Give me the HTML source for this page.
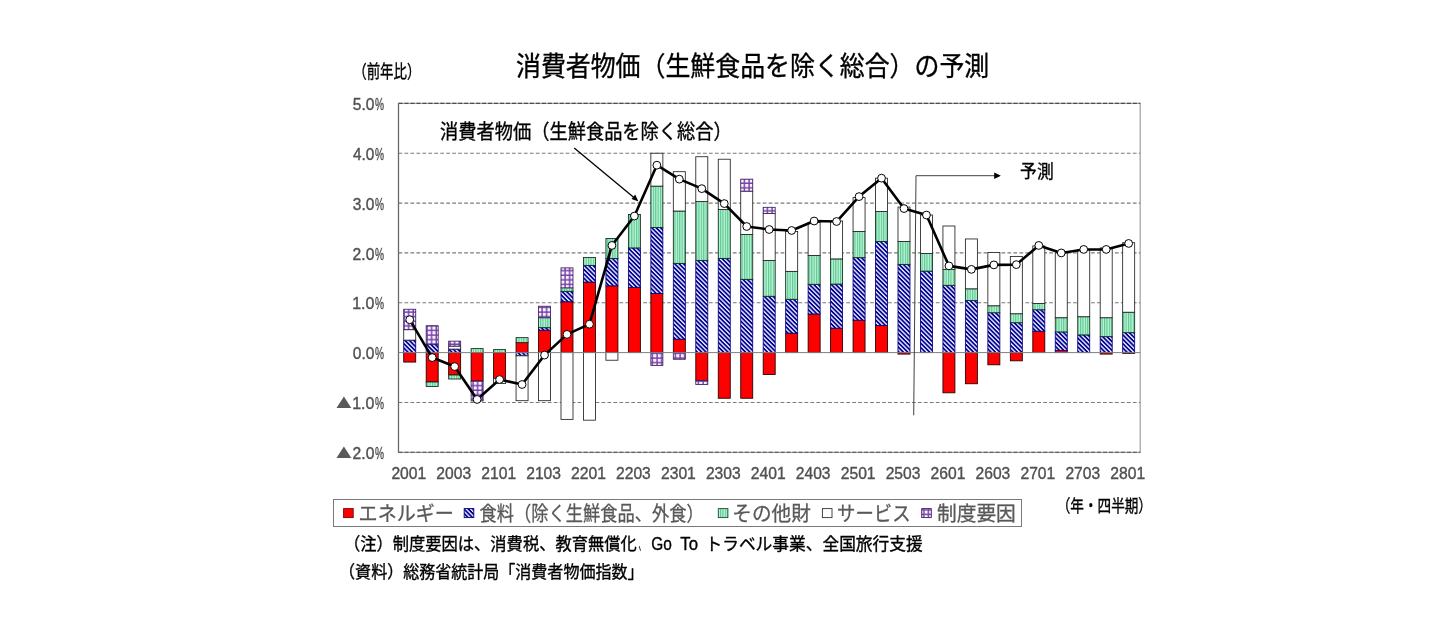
<!DOCTYPE html>
<html lang="ja"><head><meta charset="utf-8"><title>消費者物価（生鮮食品を除く総合）の予測</title>
<style>html,body{margin:0;padding:0;background:#fff}body{width:1445px;height:628px;overflow:hidden;position:relative;font-family:"Liberation Sans","Noto Sans CJK JP",sans-serif}svg{position:absolute;left:0;top:0;display:block;will-change:transform}text{font-family:"Liberation Sans","Noto Sans CJK JP",sans-serif}.ax{fill:#515151;stroke:#515151;stroke-width:0.4px}.nt{fill:#000;stroke:#000;stroke-width:0.35px}.jt{fill:#000;stroke:#000;stroke-width:0.35px}.jl{fill:#595959;stroke:#595959;stroke-width:0.3px}</style>
</head><body>
<svg width="1445" height="628" viewBox="0 0 1445 628">
<defs>
<pattern id="pF" width="3.1" height="3.1" patternUnits="userSpaceOnUse" patternTransform="rotate(45)"><rect width="3.1" height="3.1" fill="#f4f4ff"/><rect width="3.1" height="1.75" fill="#000092"/></pattern>
<pattern id="pG" width="2.4" height="4" patternUnits="userSpaceOnUse"><rect width="2.4" height="4" fill="#b6f7d6"/><rect width="1.15" height="4" fill="#62c492"/></pattern>
<pattern id="pP" width="4.6" height="4.6" patternUnits="userSpaceOnUse"><rect width="4.6" height="4.6" fill="#faf0ff"/><rect width="4.6" height="1.45" y="3.15" fill="#7443a6"/><rect width="1.45" height="4.6" x="3.15" fill="#7443a6"/></pattern>
</defs>
<rect width="1445" height="628" fill="#fff"/>
<rect x="398.5" y="103.40" width="741.7" height="349.00" fill="none" stroke="#a6a6a6" stroke-width="1.3"/>
<line x1="398.5" x2="1140.2" y1="452.28" y2="452.28" stroke="#4d4d4d" stroke-width="1.1" stroke-dasharray="4.1 1.87"/>
<line x1="398.5" x2="1140.2" y1="402.44" y2="402.44" stroke="#7a7a7a" stroke-width="1.1" stroke-dasharray="3.75 2.22"/>
<line x1="398.5" x2="1140.2" y1="302.76" y2="302.76" stroke="#7a7a7a" stroke-width="1.1" stroke-dasharray="3.75 2.22"/>
<line x1="398.5" x2="1140.2" y1="252.92" y2="252.92" stroke="#7a7a7a" stroke-width="1.1" stroke-dasharray="3.75 2.22"/>
<line x1="398.5" x2="1140.2" y1="203.08" y2="203.08" stroke="#7a7a7a" stroke-width="1.1" stroke-dasharray="3.75 2.22"/>
<line x1="398.5" x2="1140.2" y1="153.24" y2="153.24" stroke="#7a7a7a" stroke-width="1.1" stroke-dasharray="3.75 2.22"/>
<line x1="398.5" x2="1140.2" y1="103.40" y2="103.40" stroke="#4d4d4d" stroke-width="1.1" stroke-dasharray="4.1 1.87"/>
<rect x="403.72" y="352.60" width="12.00" height="9.47" fill="#ff0000" stroke="#1a0000" stroke-width="0.85"/>
<rect x="403.72" y="340.14" width="12.00" height="12.46" fill="url(#pF)" stroke="#000080" stroke-width="0.85"/>
<rect x="403.72" y="329.67" width="12.00" height="10.47" fill="#ffffff" stroke="#222222" stroke-width="0.85"/>
<rect x="403.72" y="309.24" width="12.00" height="20.43" fill="url(#pP)" stroke="#3b1f5b" stroke-width="0.85"/>
<rect x="426.19" y="352.60" width="12.00" height="29.41" fill="#ff0000" stroke="#1a0000" stroke-width="0.85"/>
<rect x="426.19" y="344.13" width="12.00" height="8.47" fill="url(#pF)" stroke="#000080" stroke-width="0.85"/>
<rect x="426.19" y="382.01" width="12.00" height="4.49" fill="url(#pG)" stroke="#0d2a1a" stroke-width="0.85"/>
<rect x="426.19" y="325.69" width="12.00" height="18.44" fill="url(#pP)" stroke="#3b1f5b" stroke-width="0.85"/>
<rect x="448.65" y="352.60" width="12.00" height="22.43" fill="#ff0000" stroke="#1a0000" stroke-width="0.85"/>
<rect x="448.65" y="349.11" width="12.00" height="3.49" fill="url(#pF)" stroke="#000080" stroke-width="0.85"/>
<rect x="448.65" y="375.03" width="12.00" height="3.99" fill="url(#pG)" stroke="#0d2a1a" stroke-width="0.85"/>
<rect x="448.65" y="346.12" width="12.00" height="2.99" fill="#ffffff" stroke="#222222" stroke-width="0.85"/>
<rect x="448.65" y="341.14" width="12.00" height="4.98" fill="url(#pP)" stroke="#3b1f5b" stroke-width="0.85"/>
<rect x="471.12" y="352.60" width="12.00" height="28.41" fill="#ff0000" stroke="#1a0000" stroke-width="0.85"/>
<rect x="471.12" y="348.61" width="12.00" height="3.99" fill="url(#pG)" stroke="#0d2a1a" stroke-width="0.85"/>
<rect x="471.12" y="381.01" width="12.00" height="19.94" fill="url(#pP)" stroke="#3b1f5b" stroke-width="0.85"/>
<rect x="493.59" y="352.60" width="12.00" height="25.92" fill="#ff0000" stroke="#1a0000" stroke-width="0.85"/>
<rect x="493.59" y="349.61" width="12.00" height="2.99" fill="url(#pG)" stroke="#0d2a1a" stroke-width="0.85"/>
<rect x="493.59" y="378.52" width="12.00" height="4.98" fill="#ffffff" stroke="#222222" stroke-width="0.85"/>
<rect x="516.06" y="342.63" width="12.00" height="9.97" fill="#ff0000" stroke="#1a0000" stroke-width="0.85"/>
<rect x="516.06" y="352.60" width="12.00" height="3.24" fill="url(#pF)" stroke="#000080" stroke-width="0.85"/>
<rect x="516.06" y="337.65" width="12.00" height="4.98" fill="url(#pG)" stroke="#0d2a1a" stroke-width="0.85"/>
<rect x="516.06" y="355.84" width="12.00" height="44.86" fill="#ffffff" stroke="#222222" stroke-width="0.85"/>
<rect x="538.52" y="330.17" width="12.00" height="22.43" fill="#ff0000" stroke="#1a0000" stroke-width="0.85"/>
<rect x="538.52" y="327.68" width="12.00" height="2.49" fill="url(#pF)" stroke="#000080" stroke-width="0.85"/>
<rect x="538.52" y="317.71" width="12.00" height="9.97" fill="url(#pG)" stroke="#0d2a1a" stroke-width="0.85"/>
<rect x="538.52" y="352.60" width="12.00" height="48.10" fill="#ffffff" stroke="#222222" stroke-width="0.85"/>
<rect x="538.52" y="306.25" width="12.00" height="11.46" fill="url(#pP)" stroke="#3b1f5b" stroke-width="0.85"/>
<rect x="560.99" y="301.76" width="12.00" height="50.84" fill="#ff0000" stroke="#1a0000" stroke-width="0.85"/>
<rect x="560.99" y="291.30" width="12.00" height="10.47" fill="url(#pF)" stroke="#000080" stroke-width="0.85"/>
<rect x="560.99" y="287.81" width="12.00" height="3.49" fill="url(#pG)" stroke="#0d2a1a" stroke-width="0.85"/>
<rect x="560.99" y="352.60" width="12.00" height="66.79" fill="#ffffff" stroke="#222222" stroke-width="0.85"/>
<rect x="560.99" y="267.87" width="12.00" height="19.94" fill="url(#pP)" stroke="#3b1f5b" stroke-width="0.85"/>
<rect x="583.46" y="282.08" width="12.00" height="70.52" fill="#ff0000" stroke="#1a0000" stroke-width="0.85"/>
<rect x="583.46" y="265.38" width="12.00" height="16.70" fill="url(#pF)" stroke="#000080" stroke-width="0.85"/>
<rect x="583.46" y="257.41" width="12.00" height="7.97" fill="url(#pG)" stroke="#0d2a1a" stroke-width="0.85"/>
<rect x="583.46" y="352.60" width="12.00" height="67.58" fill="#ffffff" stroke="#222222" stroke-width="0.85"/>
<rect x="605.92" y="285.81" width="12.00" height="66.79" fill="#ff0000" stroke="#1a0000" stroke-width="0.85"/>
<rect x="605.92" y="258.40" width="12.00" height="27.41" fill="url(#pF)" stroke="#000080" stroke-width="0.85"/>
<rect x="605.92" y="238.47" width="12.00" height="19.94" fill="url(#pG)" stroke="#0d2a1a" stroke-width="0.85"/>
<rect x="605.92" y="352.60" width="12.00" height="7.63" fill="#ffffff" stroke="#222222" stroke-width="0.85"/>
<rect x="628.39" y="287.31" width="12.00" height="65.29" fill="#ff0000" stroke="#1a0000" stroke-width="0.85"/>
<rect x="628.39" y="247.94" width="12.00" height="39.37" fill="url(#pF)" stroke="#000080" stroke-width="0.85"/>
<rect x="628.39" y="214.54" width="12.00" height="33.39" fill="url(#pG)" stroke="#0d2a1a" stroke-width="0.85"/>
<rect x="650.86" y="293.54" width="12.00" height="59.06" fill="#ff0000" stroke="#1a0000" stroke-width="0.85"/>
<rect x="650.86" y="227.50" width="12.00" height="66.04" fill="url(#pF)" stroke="#000080" stroke-width="0.85"/>
<rect x="650.86" y="186.13" width="12.00" height="41.37" fill="url(#pG)" stroke="#0d2a1a" stroke-width="0.85"/>
<rect x="650.86" y="153.24" width="12.00" height="32.89" fill="#ffffff" stroke="#222222" stroke-width="0.85"/>
<rect x="650.86" y="352.60" width="12.00" height="12.81" fill="url(#pP)" stroke="#3b1f5b" stroke-width="0.85"/>
<rect x="673.32" y="339.14" width="12.00" height="13.46" fill="#ff0000" stroke="#1a0000" stroke-width="0.85"/>
<rect x="673.32" y="263.39" width="12.00" height="75.76" fill="url(#pF)" stroke="#000080" stroke-width="0.85"/>
<rect x="673.32" y="211.05" width="12.00" height="52.33" fill="url(#pG)" stroke="#0d2a1a" stroke-width="0.85"/>
<rect x="673.32" y="171.68" width="12.00" height="39.37" fill="#ffffff" stroke="#222222" stroke-width="0.85"/>
<rect x="673.32" y="352.60" width="12.00" height="6.68" fill="url(#pP)" stroke="#3b1f5b" stroke-width="0.85"/>
<rect x="695.79" y="352.60" width="12.00" height="28.06" fill="#ff0000" stroke="#1a0000" stroke-width="0.85"/>
<rect x="695.79" y="260.40" width="12.00" height="92.20" fill="url(#pF)" stroke="#000080" stroke-width="0.85"/>
<rect x="695.79" y="201.58" width="12.00" height="58.81" fill="url(#pG)" stroke="#0d2a1a" stroke-width="0.85"/>
<rect x="695.79" y="156.73" width="12.00" height="44.86" fill="#ffffff" stroke="#222222" stroke-width="0.85"/>
<rect x="695.79" y="380.66" width="12.00" height="3.84" fill="url(#pP)" stroke="#3b1f5b" stroke-width="0.85"/>
<rect x="718.26" y="352.60" width="12.00" height="45.65" fill="#ff0000" stroke="#1a0000" stroke-width="0.85"/>
<rect x="718.26" y="258.40" width="12.00" height="94.20" fill="url(#pF)" stroke="#000080" stroke-width="0.85"/>
<rect x="718.26" y="209.56" width="12.00" height="48.84" fill="url(#pG)" stroke="#0d2a1a" stroke-width="0.85"/>
<rect x="718.26" y="159.22" width="12.00" height="50.34" fill="#ffffff" stroke="#222222" stroke-width="0.85"/>
<rect x="740.73" y="352.60" width="12.00" height="45.65" fill="#ff0000" stroke="#1a0000" stroke-width="0.85"/>
<rect x="740.73" y="279.34" width="12.00" height="73.26" fill="url(#pF)" stroke="#000080" stroke-width="0.85"/>
<rect x="740.73" y="234.48" width="12.00" height="44.86" fill="url(#pG)" stroke="#0d2a1a" stroke-width="0.85"/>
<rect x="740.73" y="191.12" width="12.00" height="43.36" fill="#ffffff" stroke="#222222" stroke-width="0.85"/>
<rect x="740.73" y="179.16" width="12.00" height="11.96" fill="url(#pP)" stroke="#3b1f5b" stroke-width="0.85"/>
<rect x="763.19" y="352.60" width="12.00" height="21.93" fill="#ff0000" stroke="#1a0000" stroke-width="0.85"/>
<rect x="763.19" y="296.28" width="12.00" height="56.32" fill="url(#pF)" stroke="#000080" stroke-width="0.85"/>
<rect x="763.19" y="260.40" width="12.00" height="35.88" fill="url(#pG)" stroke="#0d2a1a" stroke-width="0.85"/>
<rect x="763.19" y="213.55" width="12.00" height="46.85" fill="#ffffff" stroke="#222222" stroke-width="0.85"/>
<rect x="763.19" y="207.32" width="12.00" height="6.23" fill="url(#pP)" stroke="#3b1f5b" stroke-width="0.85"/>
<rect x="785.66" y="333.16" width="12.00" height="19.44" fill="#ff0000" stroke="#1a0000" stroke-width="0.85"/>
<rect x="785.66" y="299.27" width="12.00" height="33.89" fill="url(#pF)" stroke="#000080" stroke-width="0.85"/>
<rect x="785.66" y="271.36" width="12.00" height="27.91" fill="url(#pG)" stroke="#0d2a1a" stroke-width="0.85"/>
<rect x="785.66" y="231.49" width="12.00" height="39.87" fill="#ffffff" stroke="#222222" stroke-width="0.85"/>
<rect x="808.13" y="313.97" width="12.00" height="38.63" fill="#ff0000" stroke="#1a0000" stroke-width="0.85"/>
<rect x="808.13" y="284.32" width="12.00" height="29.65" fill="url(#pF)" stroke="#000080" stroke-width="0.85"/>
<rect x="808.13" y="255.41" width="12.00" height="28.91" fill="url(#pG)" stroke="#0d2a1a" stroke-width="0.85"/>
<rect x="808.13" y="222.52" width="12.00" height="32.89" fill="#ffffff" stroke="#222222" stroke-width="0.85"/>
<rect x="830.59" y="328.18" width="12.00" height="24.42" fill="#ff0000" stroke="#1a0000" stroke-width="0.85"/>
<rect x="830.59" y="284.07" width="12.00" height="44.11" fill="url(#pF)" stroke="#000080" stroke-width="0.85"/>
<rect x="830.59" y="258.90" width="12.00" height="25.17" fill="url(#pG)" stroke="#0d2a1a" stroke-width="0.85"/>
<rect x="830.59" y="221.02" width="12.00" height="37.88" fill="#ffffff" stroke="#222222" stroke-width="0.85"/>
<rect x="853.06" y="320.20" width="12.00" height="32.40" fill="#ff0000" stroke="#1a0000" stroke-width="0.85"/>
<rect x="853.06" y="257.65" width="12.00" height="62.55" fill="url(#pF)" stroke="#000080" stroke-width="0.85"/>
<rect x="853.06" y="231.49" width="12.00" height="26.17" fill="url(#pG)" stroke="#0d2a1a" stroke-width="0.85"/>
<rect x="853.06" y="197.60" width="12.00" height="33.89" fill="#ffffff" stroke="#222222" stroke-width="0.85"/>
<rect x="875.53" y="325.44" width="12.00" height="27.16" fill="#ff0000" stroke="#1a0000" stroke-width="0.85"/>
<rect x="875.53" y="241.46" width="12.00" height="83.98" fill="url(#pF)" stroke="#000080" stroke-width="0.85"/>
<rect x="875.53" y="211.55" width="12.00" height="29.90" fill="url(#pG)" stroke="#0d2a1a" stroke-width="0.85"/>
<rect x="875.53" y="178.16" width="12.00" height="33.39" fill="#ffffff" stroke="#222222" stroke-width="0.85"/>
<rect x="897.99" y="352.60" width="12.00" height="1.50" fill="#ff0000" stroke="#1a0000" stroke-width="0.85"/>
<rect x="897.99" y="264.38" width="12.00" height="88.22" fill="url(#pF)" stroke="#000080" stroke-width="0.85"/>
<rect x="897.99" y="241.46" width="12.00" height="22.93" fill="url(#pG)" stroke="#0d2a1a" stroke-width="0.85"/>
<rect x="897.99" y="207.07" width="12.00" height="34.39" fill="#ffffff" stroke="#222222" stroke-width="0.85"/>
<rect x="920.46" y="271.11" width="12.00" height="81.49" fill="url(#pF)" stroke="#000080" stroke-width="0.85"/>
<rect x="920.46" y="253.42" width="12.00" height="17.69" fill="url(#pG)" stroke="#0d2a1a" stroke-width="0.85"/>
<rect x="920.46" y="215.04" width="12.00" height="38.38" fill="#ffffff" stroke="#222222" stroke-width="0.85"/>
<rect x="942.93" y="352.60" width="12.00" height="40.22" fill="#ff0000" stroke="#1a0000" stroke-width="0.85"/>
<rect x="942.93" y="285.32" width="12.00" height="67.28" fill="url(#pF)" stroke="#000080" stroke-width="0.85"/>
<rect x="942.93" y="269.37" width="12.00" height="15.95" fill="url(#pG)" stroke="#0d2a1a" stroke-width="0.85"/>
<rect x="942.93" y="226.01" width="12.00" height="43.36" fill="#ffffff" stroke="#222222" stroke-width="0.85"/>
<rect x="965.39" y="352.60" width="12.00" height="31.15" fill="#ff0000" stroke="#1a0000" stroke-width="0.85"/>
<rect x="965.39" y="300.52" width="12.00" height="52.08" fill="url(#pF)" stroke="#000080" stroke-width="0.85"/>
<rect x="965.39" y="288.80" width="12.00" height="11.71" fill="url(#pG)" stroke="#0d2a1a" stroke-width="0.85"/>
<rect x="965.39" y="238.96" width="12.00" height="49.84" fill="#ffffff" stroke="#222222" stroke-width="0.85"/>
<rect x="987.86" y="352.60" width="12.00" height="12.21" fill="#ff0000" stroke="#1a0000" stroke-width="0.85"/>
<rect x="987.86" y="312.73" width="12.00" height="39.87" fill="url(#pF)" stroke="#000080" stroke-width="0.85"/>
<rect x="987.86" y="305.75" width="12.00" height="6.98" fill="url(#pG)" stroke="#0d2a1a" stroke-width="0.85"/>
<rect x="987.86" y="252.42" width="12.00" height="53.33" fill="#ffffff" stroke="#222222" stroke-width="0.85"/>
<rect x="1010.33" y="352.60" width="12.00" height="8.22" fill="#ff0000" stroke="#1a0000" stroke-width="0.85"/>
<rect x="1010.33" y="322.70" width="12.00" height="29.90" fill="url(#pF)" stroke="#000080" stroke-width="0.85"/>
<rect x="1010.33" y="313.72" width="12.00" height="8.97" fill="url(#pG)" stroke="#0d2a1a" stroke-width="0.85"/>
<rect x="1010.33" y="256.41" width="12.00" height="57.32" fill="#ffffff" stroke="#222222" stroke-width="0.85"/>
<rect x="1032.80" y="331.17" width="12.00" height="21.43" fill="#ff0000" stroke="#1a0000" stroke-width="0.85"/>
<rect x="1032.80" y="309.74" width="12.00" height="21.43" fill="url(#pF)" stroke="#000080" stroke-width="0.85"/>
<rect x="1032.80" y="303.51" width="12.00" height="6.23" fill="url(#pG)" stroke="#0d2a1a" stroke-width="0.85"/>
<rect x="1032.80" y="245.94" width="12.00" height="57.57" fill="#ffffff" stroke="#222222" stroke-width="0.85"/>
<rect x="1055.26" y="350.36" width="12.00" height="2.24" fill="#ff0000" stroke="#1a0000" stroke-width="0.85"/>
<rect x="1055.26" y="331.92" width="12.00" height="18.44" fill="url(#pF)" stroke="#000080" stroke-width="0.85"/>
<rect x="1055.26" y="317.71" width="12.00" height="14.20" fill="url(#pG)" stroke="#0d2a1a" stroke-width="0.85"/>
<rect x="1055.26" y="252.92" width="12.00" height="64.79" fill="#ffffff" stroke="#222222" stroke-width="0.85"/>
<rect x="1077.73" y="334.91" width="12.00" height="17.69" fill="url(#pF)" stroke="#000080" stroke-width="0.85"/>
<rect x="1077.73" y="316.72" width="12.00" height="18.19" fill="url(#pG)" stroke="#0d2a1a" stroke-width="0.85"/>
<rect x="1077.73" y="249.43" width="12.00" height="67.28" fill="#ffffff" stroke="#222222" stroke-width="0.85"/>
<rect x="1100.20" y="352.60" width="12.00" height="1.50" fill="#ff0000" stroke="#1a0000" stroke-width="0.85"/>
<rect x="1100.20" y="336.65" width="12.00" height="15.95" fill="url(#pF)" stroke="#000080" stroke-width="0.85"/>
<rect x="1100.20" y="317.71" width="12.00" height="18.94" fill="url(#pG)" stroke="#0d2a1a" stroke-width="0.85"/>
<rect x="1100.20" y="247.94" width="12.00" height="69.78" fill="#ffffff" stroke="#222222" stroke-width="0.85"/>
<rect x="1122.66" y="352.60" width="12.00" height="0.75" fill="#ff0000" stroke="#1a0000" stroke-width="0.85"/>
<rect x="1122.66" y="332.66" width="12.00" height="19.94" fill="url(#pF)" stroke="#000080" stroke-width="0.85"/>
<rect x="1122.66" y="312.23" width="12.00" height="20.43" fill="url(#pG)" stroke="#0d2a1a" stroke-width="0.85"/>
<rect x="1122.66" y="242.70" width="12.00" height="69.53" fill="#ffffff" stroke="#222222" stroke-width="0.85"/>
<line x1="398.5" x2="1140.2" y1="352.60" y2="352.60" stroke="#7f7f7f" stroke-width="1"/>
<line x1="398.5" x2="398.5" y1="103.40" y2="452.40" stroke="#666" stroke-width="1.1"/>
<path d="M913.7 415.3 L916.0 175.7 H995" fill="none" stroke="#404040" stroke-width="1"/>
<path d="M1000.9 175.7 L994.2 172.4 L994.2 179.0 Z" fill="#000"/>
<line x1="574.2" y1="148" x2="636" y2="199.2" stroke="#000" stroke-width="1.3"/>
<path d="M638.4 201.4 L631.6 198.9 L635.2 194.5 Z" fill="#000"/>
<polyline points="409.72,319.71 432.19,357.58 454.65,366.56 477.12,399.45 499.59,379.51 522.06,384.50 544.52,355.09 566.99,334.41 589.46,324.19 611.92,245.44 634.39,216.04 656.86,165.20 679.32,179.16 701.79,188.63 724.26,203.58 746.73,226.50 769.19,229.50 791.66,230.49 814.13,221.02 836.59,221.52 859.06,196.60 881.53,178.16 903.99,208.56 926.46,215.04 948.93,265.88 971.39,269.37 993.86,264.88 1016.33,264.63 1038.80,245.44 1061.26,252.92 1083.73,249.43 1106.20,249.43 1128.66,243.45" fill="none" stroke="#000" stroke-width="2.6" stroke-linejoin="round"/>
<circle cx="409.72" cy="319.71" r="3.9" fill="#fff" stroke="#000" stroke-width="1"/>
<circle cx="432.19" cy="357.58" r="3.9" fill="#fff" stroke="#000" stroke-width="1"/>
<circle cx="454.65" cy="366.56" r="3.9" fill="#fff" stroke="#000" stroke-width="1"/>
<circle cx="477.12" cy="399.45" r="3.9" fill="#fff" stroke="#000" stroke-width="1"/>
<circle cx="499.59" cy="379.51" r="3.9" fill="#fff" stroke="#000" stroke-width="1"/>
<circle cx="522.06" cy="384.50" r="3.9" fill="#fff" stroke="#000" stroke-width="1"/>
<circle cx="544.52" cy="355.09" r="3.9" fill="#fff" stroke="#000" stroke-width="1"/>
<circle cx="566.99" cy="334.41" r="3.9" fill="#fff" stroke="#000" stroke-width="1"/>
<circle cx="589.46" cy="324.19" r="3.9" fill="#fff" stroke="#000" stroke-width="1"/>
<circle cx="611.92" cy="245.44" r="3.9" fill="#fff" stroke="#000" stroke-width="1"/>
<circle cx="634.39" cy="216.04" r="3.9" fill="#fff" stroke="#000" stroke-width="1"/>
<circle cx="656.86" cy="165.20" r="3.9" fill="#fff" stroke="#000" stroke-width="1"/>
<circle cx="679.32" cy="179.16" r="3.9" fill="#fff" stroke="#000" stroke-width="1"/>
<circle cx="701.79" cy="188.63" r="3.9" fill="#fff" stroke="#000" stroke-width="1"/>
<circle cx="724.26" cy="203.58" r="3.9" fill="#fff" stroke="#000" stroke-width="1"/>
<circle cx="746.73" cy="226.50" r="3.9" fill="#fff" stroke="#000" stroke-width="1"/>
<circle cx="769.19" cy="229.50" r="3.9" fill="#fff" stroke="#000" stroke-width="1"/>
<circle cx="791.66" cy="230.49" r="3.9" fill="#fff" stroke="#000" stroke-width="1"/>
<circle cx="814.13" cy="221.02" r="3.9" fill="#fff" stroke="#000" stroke-width="1"/>
<circle cx="836.59" cy="221.52" r="3.9" fill="#fff" stroke="#000" stroke-width="1"/>
<circle cx="859.06" cy="196.60" r="3.9" fill="#fff" stroke="#000" stroke-width="1"/>
<circle cx="881.53" cy="178.16" r="3.9" fill="#fff" stroke="#000" stroke-width="1"/>
<circle cx="903.99" cy="208.56" r="3.9" fill="#fff" stroke="#000" stroke-width="1"/>
<circle cx="926.46" cy="215.04" r="3.9" fill="#fff" stroke="#000" stroke-width="1"/>
<circle cx="948.93" cy="265.88" r="3.9" fill="#fff" stroke="#000" stroke-width="1"/>
<circle cx="971.39" cy="269.37" r="3.9" fill="#fff" stroke="#000" stroke-width="1"/>
<circle cx="993.86" cy="264.88" r="3.9" fill="#fff" stroke="#000" stroke-width="1"/>
<circle cx="1016.33" cy="264.63" r="3.9" fill="#fff" stroke="#000" stroke-width="1"/>
<circle cx="1038.80" cy="245.44" r="3.9" fill="#fff" stroke="#000" stroke-width="1"/>
<circle cx="1061.26" cy="252.92" r="3.9" fill="#fff" stroke="#000" stroke-width="1"/>
<circle cx="1083.73" cy="249.43" r="3.9" fill="#fff" stroke="#000" stroke-width="1"/>
<circle cx="1106.20" cy="249.43" r="3.9" fill="#fff" stroke="#000" stroke-width="1"/>
<circle cx="1128.66" cy="243.45" r="3.9" fill="#fff" stroke="#000" stroke-width="1"/>
<text class="ax" x="352.78" y="110.00" font-size="16.80" textLength="21.63" lengthAdjust="spacingAndGlyphs">5.0</text>
<text class="ax" x="375.04" y="110.00" font-size="16.80" textLength="9.02" lengthAdjust="spacingAndGlyphs">%</text>
<text class="ax" x="353.05" y="159.84" font-size="16.80" textLength="21.35" lengthAdjust="spacingAndGlyphs">4.0</text>
<text class="ax" x="375.04" y="159.84" font-size="16.80" textLength="9.02" lengthAdjust="spacingAndGlyphs">%</text>
<text class="ax" x="352.81" y="209.68" font-size="16.80" textLength="21.60" lengthAdjust="spacingAndGlyphs">3.0</text>
<text class="ax" x="375.04" y="209.68" font-size="16.80" textLength="9.02" lengthAdjust="spacingAndGlyphs">%</text>
<text class="ax" x="352.61" y="259.52" font-size="16.80" textLength="21.80" lengthAdjust="spacingAndGlyphs">2.0</text>
<text class="ax" x="375.04" y="259.52" font-size="16.80" textLength="9.02" lengthAdjust="spacingAndGlyphs">%</text>
<text class="ax" x="352.18" y="309.36" font-size="16.80" textLength="22.24" lengthAdjust="spacingAndGlyphs">1.0</text>
<text class="ax" x="375.04" y="309.36" font-size="16.80" textLength="9.02" lengthAdjust="spacingAndGlyphs">%</text>
<text class="ax" x="352.79" y="359.20" font-size="16.80" textLength="21.61" lengthAdjust="spacingAndGlyphs">0.0</text>
<text class="ax" x="375.04" y="359.20" font-size="16.80" textLength="9.02" lengthAdjust="spacingAndGlyphs">%</text>
<text class="ax" x="352.18" y="409.04" font-size="16.80" textLength="22.24" lengthAdjust="spacingAndGlyphs">1.0</text>
<text class="ax" x="375.04" y="409.04" font-size="16.80" textLength="9.02" lengthAdjust="spacingAndGlyphs">%</text>
<path d="M336.5 408.0 L351.3 408.0 L343.9 396.6 Z" fill="#595959"/>
<text class="ax" x="352.61" y="458.88" font-size="16.80" textLength="21.80" lengthAdjust="spacingAndGlyphs">2.0</text>
<text class="ax" x="375.04" y="458.88" font-size="16.80" textLength="9.02" lengthAdjust="spacingAndGlyphs">%</text>
<path d="M336.5 457.9 L351.3 457.9 L343.9 446.5 Z" fill="#595959"/>
<text class="ax" x="391.38" y="478.60" font-size="16.80" textLength="34.85" lengthAdjust="spacingAndGlyphs">2001</text>
<text class="ax" x="436.32" y="478.60" font-size="16.80" textLength="34.77" lengthAdjust="spacingAndGlyphs">2003</text>
<text class="ax" x="481.25" y="478.60" font-size="16.80" textLength="34.85" lengthAdjust="spacingAndGlyphs">2101</text>
<text class="ax" x="526.19" y="478.60" font-size="16.80" textLength="34.77" lengthAdjust="spacingAndGlyphs">2103</text>
<text class="ax" x="571.12" y="478.60" font-size="16.80" textLength="34.85" lengthAdjust="spacingAndGlyphs">2201</text>
<text class="ax" x="616.05" y="478.60" font-size="16.80" textLength="34.77" lengthAdjust="spacingAndGlyphs">2203</text>
<text class="ax" x="660.99" y="478.60" font-size="16.80" textLength="34.85" lengthAdjust="spacingAndGlyphs">2301</text>
<text class="ax" x="705.92" y="478.60" font-size="16.80" textLength="34.77" lengthAdjust="spacingAndGlyphs">2303</text>
<text class="ax" x="750.85" y="478.60" font-size="16.80" textLength="34.85" lengthAdjust="spacingAndGlyphs">2401</text>
<text class="ax" x="795.79" y="478.60" font-size="16.80" textLength="34.77" lengthAdjust="spacingAndGlyphs">2403</text>
<text class="ax" x="840.72" y="478.60" font-size="16.80" textLength="34.85" lengthAdjust="spacingAndGlyphs">2501</text>
<text class="ax" x="885.66" y="478.60" font-size="16.80" textLength="34.77" lengthAdjust="spacingAndGlyphs">2503</text>
<text class="ax" x="930.59" y="478.60" font-size="16.80" textLength="34.85" lengthAdjust="spacingAndGlyphs">2601</text>
<text class="ax" x="975.53" y="478.60" font-size="16.80" textLength="34.77" lengthAdjust="spacingAndGlyphs">2603</text>
<text class="ax" x="1020.46" y="478.60" font-size="16.80" textLength="34.85" lengthAdjust="spacingAndGlyphs">2701</text>
<text class="ax" x="1065.39" y="478.60" font-size="16.80" textLength="34.77" lengthAdjust="spacingAndGlyphs">2703</text>
<text class="ax" x="1110.33" y="478.60" font-size="16.80" textLength="34.85" lengthAdjust="spacingAndGlyphs">2801</text>
<rect x="333.5" y="499.5" width="688" height="27" fill="#fff" stroke="#7a7a7a" stroke-width="1"/>
<rect x="343.6" y="508.6" width="9.6" height="9.0" fill="#ff0000" stroke="#7a0000" stroke-width="0.9"/>
<rect x="464.2" y="508.6" width="9.6" height="9.0" fill="url(#pF)" stroke="#000080" stroke-width="0.9"/>
<rect x="718.3" y="508.6" width="9.6" height="9.0" fill="url(#pG)" stroke="#1f4d33" stroke-width="0.9"/>
<rect x="822.4" y="508.6" width="9.6" height="9.0" fill="#fff" stroke="#333" stroke-width="0.9"/>
<rect x="921.7" y="508.6" width="9.6" height="9.0" fill="url(#pP)" stroke="#3b1f5b" stroke-width="0.9"/>
<text class="jt" x="516.0" y="76.3" font-size="26.8" textLength="473.2" lengthAdjust="spacingAndGlyphs">消費者物価（生鮮食品を除く総合）の予測</text>
<text class="jt" x="353.2" y="78.1" font-size="18.0" textLength="67.2" lengthAdjust="spacingAndGlyphs">（前年比）</text>
<text class="jt" x="440.0" y="139.3" font-size="20.4" textLength="291.8" lengthAdjust="spacingAndGlyphs">消費者物価（生鮮食品を除く総合）</text>
<text class="jt" x="1020.1" y="178.0" font-size="17.8" textLength="33.6" lengthAdjust="spacingAndGlyphs">予測</text>
<text class="jl" x="358.6" y="521.3" font-size="20.2" textLength="95.2" lengthAdjust="spacingAndGlyphs">エネルギー</text>
<text class="jl" x="479.6" y="521.3" font-size="20.2" textLength="224.1" lengthAdjust="spacingAndGlyphs">食料（除く生鮮食品、外食）</text>
<text class="jl" x="732.3" y="521.3" font-size="20.2" textLength="78.5" lengthAdjust="spacingAndGlyphs">その他財</text>
<text class="jl" x="837.0" y="521.3" font-size="20.2" textLength="73.7" lengthAdjust="spacingAndGlyphs">サービス</text>
<text class="jl" x="937.0" y="521.3" font-size="20.2" textLength="78.8" lengthAdjust="spacingAndGlyphs">制度要因</text>
<text class="jt" x="1056.7" y="512.0" font-size="17.6" textLength="95.3" lengthAdjust="spacingAndGlyphs">（年・四半期）</text>
<text class="jt" x="343.9" y="550.2" font-size="17.6" textLength="292.9" lengthAdjust="spacingAndGlyphs">（注）制度要因は、消費税、教育無償化</text>
<text class="jt" x="638.7" y="550.2" font-size="17.6" textLength="5.5" lengthAdjust="spacingAndGlyphs">、</text>
<text class="jt" x="705.5" y="550.2" font-size="17.6" textLength="217.2" lengthAdjust="spacingAndGlyphs">トラベル事業、全国旅行支援</text>
<text class="jt" x="339.1" y="577.7" font-size="17.3" textLength="304.4" lengthAdjust="spacingAndGlyphs">（資料）総務省統計局「消費者物価指数」</text>
<text class="nt" x="651.27" y="550.17" font-size="17.90" textLength="20.57" lengthAdjust="spacingAndGlyphs">Go</text>
<text class="nt" x="680.36" y="550.17" font-size="17.90" textLength="17.68" lengthAdjust="spacingAndGlyphs">To</text>
</svg>
</body></html>
